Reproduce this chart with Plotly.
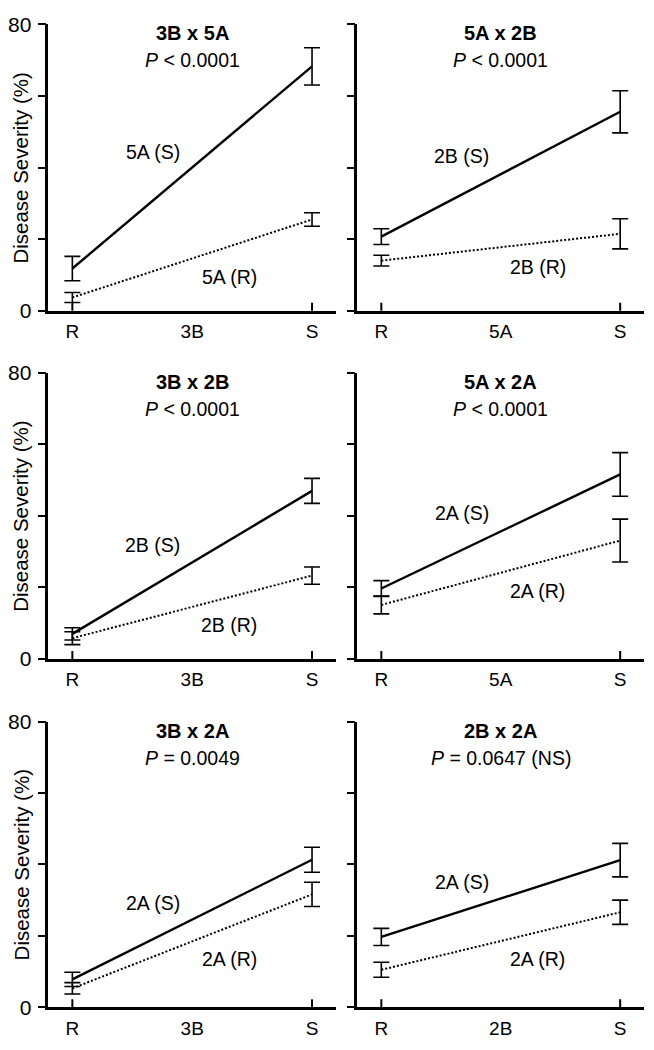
import plotly.graph_objects as go

# ---------------- data ----------------
panel_titles = ["3B x 5A", "5A x 2B", "3B x 2B", "5A x 2A", "3B x 2A", "2B x 2A"]
p_values = ["&lt; 0.0001", "&lt; 0.0001", "&lt; 0.0001", "&lt; 0.0001", "= 0.0049", "= 0.0647 (NS)"]
middle_labels = ["3B", "5A", "3B", "5A", "3B", "2B"]
s_line_labels = ["5A (S)", "2B (S)", "2B (S)", "2A (S)", "2A (S)", "2A (S)"]
r_line_labels = ["5A (R)", "2B (R)", "2B (R)", "2A (R)", "2A (R)", "2A (R)"]

# severity (%) at R and S for each panel
s_means = [[11.8, 68.3], [20.7, 55.6], [7.0, 47.0], [19.7, 51.6], [7.8, 41.3], [19.7, 41.2]]
s_errs = [[3.4, 5.2], [2.2, 5.9], [1.7, 3.5], [2.2, 6.1], [2.0, 3.5], [2.4, 4.7]]
r_means = [[3.7, 25.5], [14.0, 21.5], [5.8, 23.3], [15.1, 33.1], [5.3, 31.6], [10.5, 26.6]]
r_errs = [[1.4, 1.9], [1.5, 4.2], [1.8, 2.4], [2.5, 6.0], [1.6, 3.4], [2.1, 3.4]]

y_tick_vals = [0, 20, 40, 60, 80]
y_tick_text = ["0", "", "", "", "80"]

# ---------------- placement (layout only) ----------------
W, H = 654, 1050
OFF_X = 8
# screen-to-figure vertical calibration
Y_SCALE, Y_SHIFT = 0.979, 19.5
col_px = [(46.5, 335), (356.5, 644)]
row_px = [(24, 310.5), (372.7, 659), (721.7, 1007.7)]
s_label_pos = [(0.67, 44.5), (0.675, 43.3), (0.67, 31.9), (0.675, 40.7), (0.67, 29.3), (0.675, 35.1)]
r_label_pos = [(1.31, 9.5), (1.31, 12.3), (1.31, 9.5), (1.31, 19.1), (1.31, 13.4), (1.31, 13.5)]


def fy(v):
    return (v - Y_SHIFT) / Y_SCALE


FONT = "Arial, Liberation Sans, sans-serif"

fig = go.Figure()
layout = dict(
    width=W, height=H,
    margin=dict(l=0, r=0, t=0, b=0),
    paper_bgcolor="white", plot_bgcolor="white",
    showlegend=False,
    font=dict(family=FONT, color="black"),
)
annotations = []
shapes = []

for i in range(6):
    r, c = divmod(i, 2)
    n = "" if i == 0 else str(i + 1)
    xa, ya = "x" + n, "y" + n
    x0, x1 = (v - OFF_X for v in col_px[c])
    ytop, ybot = (fy(v) for v in row_px[r])
    xdom = [x0 / W, x1 / W]
    ydom = [1 - ybot / H, 1 - ytop / H]
    cats = ["R", middle_labels[i], "S"]
    xpos = [0, 2]  # R and S positions

    fig.add_trace(go.Scatter(
        x=xpos, y=r_means[i], xaxis=xa, yaxis=ya, mode="lines",
        line=dict(color="black", width=2, dash="2px,2px"),
        error_y=dict(type="data", array=r_errs[i], color="black", thickness=1.6, width=8),
    ))
    fig.add_trace(go.Scatter(
        x=xpos, y=s_means[i], xaxis=xa, yaxis=ya, mode="lines",
        line=dict(color="black", width=2.4),
        error_y=dict(type="data", array=s_errs[i], color="black", thickness=1.6, width=8),
    ))

    layout["xaxis" + n] = dict(
        domain=xdom, range=[-0.2, 2.2], anchor=ya,
        showline=True, linecolor="black", linewidth=2.5,
        showgrid=False, zeroline=False,
        tickmode="array", tickvals=[0, 1, 2], ticktext=cats,
        ticks="", tickfont=dict(size=19, family=FONT, color="black"),
        ticklabelstandoff=2,
    )
    layout["yaxis" + n] = dict(
        domain=ydom, range=[0, 80], anchor=xa,
        showline=True, linecolor="black", linewidth=2.5,
        showgrid=False, zeroline=False,
        tickmode="array", tickvals=y_tick_vals,
        ticktext=y_tick_text if c == 0 else [""] * 5,
        ticks="outside", ticklen=8, tickwidth=2, tickcolor="black",
        tickfont=dict(size=21, family=FONT, color="black"),
        ticklabelstandoff=2,
    )

    # inside tick marks at R and S only
    for xv in xpos:
        shapes.append(dict(type="line", xref=xa, yref=ya + " domain",
                           x0=xv, x1=xv, y0=0, y1=0.028,
                           line=dict(color="black", width=2)))

    # titles
    annotations.append(dict(
        text="<b>" + panel_titles[i] + "</b>", xref=xa + " domain", yref=ya + " domain",
        x=0.5, y=1, yshift=-9, showarrow=False, xanchor="center", yanchor="middle",
        font=dict(size=20, family=FONT, color="black")))
    annotations.append(dict(
        text="<i>P</i> " + p_values[i], xref=xa + " domain", yref=ya + " domain",
        x=0.5, y=1, yshift=-36, showarrow=False, xanchor="center", yanchor="middle",
        font=dict(size=19.5, family=FONT, color="black")))

    # line labels
    annotations.append(dict(
        text=s_line_labels[i], xref=xa, yref=ya, x=s_label_pos[i][0], y=s_label_pos[i][1],
        showarrow=False, xanchor="center", yanchor="middle",
        font=dict(size=19.5, family=FONT, color="black")))
    annotations.append(dict(
        text=r_line_labels[i], xref=xa, yref=ya, x=r_label_pos[i][0], y=r_label_pos[i][1],
        showarrow=False, xanchor="center", yanchor="middle",
        font=dict(size=19.5, family=FONT, color="black")))

    # y-axis title on left column
    if c == 0:
        annotations.append(dict(
            text="Disease Severity (%)", xref="paper", yref=ya + " domain",
            x=(19 - OFF_X) / W, y=0.5, textangle=-90, showarrow=False,
            xanchor="center", yanchor="middle",
            font=dict(size=20.5, family=FONT, color="black")))

layout["annotations"] = annotations
layout["shapes"] = shapes
fig.update_layout(**layout)
fig.write_html("out.html")
